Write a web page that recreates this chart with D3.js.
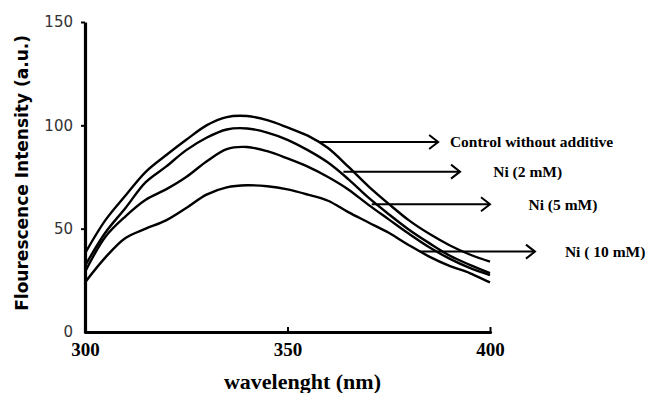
<!DOCTYPE html>
<html>
<head>
<meta charset="utf-8">
<script src="https://cdn.jsdelivr.net/npm/d3@7"></script>
<style>
  body { margin: 0; background: #fff; }
  svg { display: block; }
</style>
</head>
<body>
<div id="chart"></div>
<script>
// wavelengths (nm) sampled along the curves
const wavelengths = [300, 305, 310, 315, 320, 325, 330, 335, 340, 345, 350, 355, 360, 365, 370, 375, 380, 385, 390, 395, 400];

// intensities
const control = [38, 54, 66, 77.5, 85.5, 93, 100, 104, 104.5, 102.5, 99, 95, 89, 80, 70.5, 62, 54, 47.5, 42, 37.5, 34];
const ni2 = [32, 48, 60, 72.5, 80, 88, 94, 98, 98.5, 96.5, 93, 88, 82, 74, 65, 57, 49.5, 43, 37, 32.5, 28.5];
const ni5 = [29, 46, 56, 64, 69, 75, 82.5, 88.5, 89.5, 87.5, 84, 80, 75, 69, 61.5, 54.5, 47.5, 41, 35.5, 31, 27.5];
const ni10 = [24, 36, 45.5, 50, 54, 60, 66.5, 70, 71, 70.5, 69, 66.5, 63.5, 58, 53, 48, 42, 36.5, 32, 28.5, 24];

const seriesNames = ["Control without additive", "Ni (2 mM)", "Ni (5 mM)", "Ni ( 10 mM)"];
// arrow annotations: start wl, end wl, level, label wl
const arrowStart = [358, 363.8, 370.8, 382.7];
const arrowEnd = [387.2, 392.6, 400, 411.1];
const arrowLevel = [91.9, 77.6, 61.8, 38.9];
const labelAt = [390.1, 400.8, 409.5, 418.5];

const xTicks = [300, 350, 400];
const yTicks = [0, 50, 100, 150];

const width = 650, height = 393;
const margin = {top: 22, right: 160, bottom: 61, left: 85};

const svg = d3.select("#chart").append("svg")
    .attr("width", width)
    .attr("height", height);

const x = d3.scaleLinear().domain([300, 400]).range([margin.left, width - margin.right]);
const y = d3.scaleLinear().domain([0, 150]).range([height - margin.bottom, margin.top]);

// curves
const allSeries = [control, ni2, ni5, ni10];
const line = d3.line()
    .x((d, i) => x(wavelengths[i]))
    .y(d => y(d))
    .curve(d3.curveCatmullRom);

svg.append("g")
    .selectAll("path")
    .data(allSeries)
    .join("path")
    .attr("fill", "none")
    .attr("stroke", "#000")
    .attr("stroke-width", 2.4)
    .attr("d", line);

// axes
const yAxis = svg.append("g")
    .attr("transform", `translate(${x(300)},0)`)
    .call(d3.axisLeft(y).tickValues(yTicks).tickSize(4).tickSizeOuter(0).tickPadding(8));
yAxis.select(".domain").attr("stroke-width", 3.2);
yAxis.selectAll(".tick line").attr("stroke-width", 2);
yAxis.selectAll(".tick text")
    .attr("font-family", "DejaVu Sans, Verdana, sans-serif")
    .attr("font-size", 15)
    .attr("fill", "#333");
yAxis.selectAll(".tick").filter(d => d === 0).select("line").remove();

const xAxis = svg.append("g")
    .attr("transform", `translate(0,${y(0)})`)
    .call(d3.axisBottom(x).tickValues(xTicks).tickSize(-5).tickSizeOuter(0).tickPadding(11));
xAxis.select(".domain").attr("stroke-width", 3.2).attr("stroke-linecap", "round");
xAxis.selectAll(".tick line").attr("stroke-width", 2);
xAxis.selectAll(".tick").filter(d => d === 300).select("line").remove();
xAxis.selectAll(".tick text")
    .attr("font-family", "Liberation Serif, Times New Roman, serif")
    .attr("font-weight", "bold")
    .attr("font-size", 19)
    .attr("fill", "#000");

// axis titles
svg.append("text")
    .attr("x", (x(300) + x(400)) / 2 + 15)
    .attr("y", 389)
    .attr("text-anchor", "middle")
    .attr("font-family", "Liberation Serif, Times New Roman, serif")
    .attr("font-weight", "bold")
    .attr("font-size", 22)
    .text("wavelenght (nm)");

svg.append("text")
    .attr("transform", `translate(28,${y(77)}) rotate(-90)`)
    .attr("text-anchor", "middle")
    .attr("font-family", "DejaVu Sans, Verdana, sans-serif")
    .attr("font-weight", "bold")
    .attr("font-size", 17)
    .text("Flourescence Intensity (a.u.)");

// arrows and labels
const ann = svg.append("g");
seriesNames.forEach((name, i) => {
  const yy = y(arrowLevel[i]);
  const x1 = x(arrowStart[i]), x2 = x(arrowEnd[i]);
  ann.append("line")
      .attr("x1", x1).attr("x2", x2)
      .attr("y1", yy).attr("y2", yy)
      .attr("stroke", "#000")
      .attr("stroke-width", 2);
  ann.append("path")
      .attr("d", `M${x2 - 9},${yy - 7}L${x2},${yy}L${x2 - 9},${yy + 7}`)
      .attr("fill", "none")
      .attr("stroke", "#000")
      .attr("stroke-width", 2);
  ann.append("text")
      .attr("x", x(labelAt[i]))
      .attr("y", yy)
      .attr("dy", "0.35em")
      .attr("font-family", "Liberation Serif, Times New Roman, serif")
      .attr("font-weight", "bold")
      .attr("font-size", 15.5)
      .text(name);
});
</script>
</body>
</html>
